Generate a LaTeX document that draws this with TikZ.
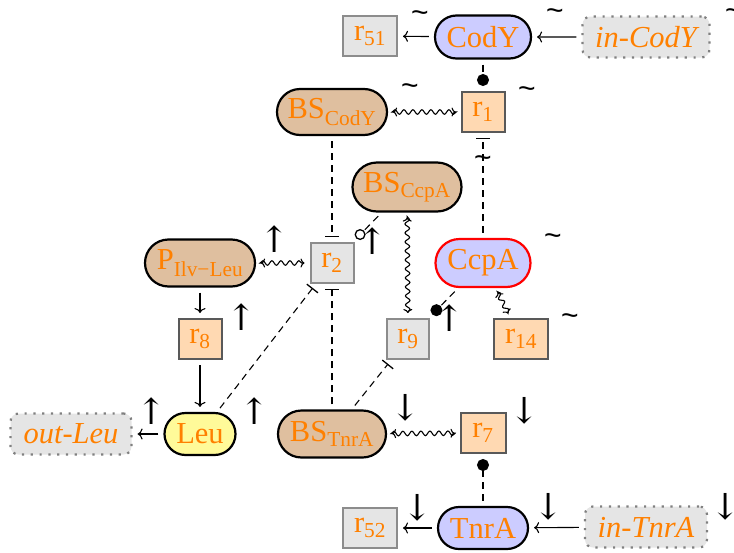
\documentclass[tikz,border=0pt]{standalone}
\usepackage{fontspec}
\setmainfont{Liberation Serif}
\newfontfamily\symfnt{DejaVu Serif}
\newfontfamily\tilfnt{Liberation Sans}
\usetikzlibrary{arrows.meta,decorations.pathmorphing,shapes.misc}
\begin{document}
\begin{tikzpicture}[x=1pt,y=-1pt,
 lbl/.style={text=orange, font=\fontsize{30.5}{36}\selectfont, inner sep=0pt},
 prot/.style={lbl, rounded rectangle, draw=black, line width=2.2pt, fill=blue!20},
 bsite/.style={lbl, rounded rectangle, draw=black, line width=2.2pt, fill=brown!50},
 rxon/.style={lbl, rectangle, draw=black!65, line width=2pt, fill=orange!30, minimum height=40pt},
 rxoff/.style={lbl, rectangle, draw=black!45, line width=2pt, fill=black!10, minimum height=40pt},
 envbox/.style={lbl, rectangle, rounded corners=8pt, draw=black!50, line width=2.2pt, dash pattern=on 2.2pt off 6.6pt, fill=black!10, minimum height=41pt},
 tmk/.style={inner sep=0pt, font=\tilfnt\fontsize{30}{34}\selectfont},
 amk/.style={inner sep=0pt, font=\symfnt\fontsize{36}{40}\selectfont},
 conn/.style={line width=1.1pt, shorten >=5pt, shorten <=5pt},
 act/.style={conn, -{To[length=5pt,width=11pt]}},
 wavy/.style={conn, {To[length=4pt,width=9pt]}-{To[length=4pt,width=9pt]}, decorate, decoration={snake, amplitude=2.3pt, segment length=9pt, pre length=4pt, post length=4pt}},
 reg/.style={conn, dash pattern=on 7pt off 5pt},
 inh/.style={reg, -{Bar[width=14pt, line width=1.3pt]}},
 dotend/.style={reg, -{Circle[length=12pt]}},
 circend/.style={reg, -{Circle[open, length=11pt, line width=1.3pt]}},
]
\useasboundingbox (0,0) rectangle (734,552);
% nodes
\node[prot, minimum width=96pt, minimum height=43pt] (CodY) at (483,37) {CodY};
\node[rxoff, minimum width=54pt] (r51) at (370,36) {r\textsubscript{51}};
\node[envbox, minimum width=127pt] (inCodY) at (646,37) {\itshape in-CodY};
\node[rxon, minimum width=43pt] (r1) at (483,112) {r\textsubscript{1}};
\node[bsite, minimum width=110pt, minimum height=46pt] (BSCodY) at (332,112) {BS\textsubscript{CodY}};
\node[bsite, minimum width=109pt, minimum height=49pt] (BSCcpA) at (407,187) {BS\textsubscript{CcpA}};
\node[rxoff, minimum width=43pt] (r2) at (332,263) {r\textsubscript{2}};
\node[prot, draw=red, minimum width=95pt, minimum height=48pt] (CcpA) at (483,263) {CcpA};
\node[bsite, minimum width=110pt, minimum height=47pt] (PIlv) at (200,263) {P\textsubscript{Ilv−Leu}};
\node[rxon, minimum width=43pt] (r8) at (200,339) {r\textsubscript{8}};
\node[rxoff, minimum width=42pt] (r9) at (408,339) {r\textsubscript{9}};
\node[rxon, minimum width=54pt] (r14) at (521,339) {r\textsubscript{14}};
\node[prot, fill=yellow!40, minimum width=71pt, minimum height=42pt] (Leu) at (200,434) {Leu};
\node[envbox, minimum width=121pt] (outLeu) at (71,434) {\itshape out-Leu};
\node[bsite, minimum width=108pt, minimum height=47pt] (BSTnrA) at (332,434) {BS\textsubscript{TnrA}};
\node[rxon, minimum width=45pt] (r7) at (483,433) {r\textsubscript{7}};
\node[prot, minimum width=90pt, minimum height=42pt] (TnrA) at (483,528) {TnrA};
\node[rxoff, minimum width=54pt] (r52) at (370,528) {r\textsubscript{52}};
\node[envbox, minimum width=122pt] (inTnrA) at (646,527) {\itshape in-TnrA};
% markers
\node[tmk] (m51) at (420,17) {\textasciitilde};
\node[tmk] (mCodY) at (555,15) {\textasciitilde};
\node[tmk] (minCodY) at (734,15) {\textasciitilde};
\node[tmk] (mBSCodY) at (410,90) {\textasciitilde};
\node[tmk] (m1) at (527,93) {\textasciitilde};
\node[tmk] (mBSCcpA) at (483,162) {\textasciitilde};
\node[tmk] (mCcpA) at (553,240) {\textasciitilde};
\node[tmk] (m14) at (570,320) {\textasciitilde};
\node[amk] (mPIlv) at (275,239) {↑};
\node[amk] (m2) at (373,241) {↑};
\node[amk] (m8) at (242,317) {↑};
\node[amk] (m9) at (450,318) {↑};
\node[amk] (mLeu) at (255,411) {↑};
\node[amk] (moutLeu) at (152,411) {↑};
\node[amk] (mBSTnrA) at (406,408) {↓};
\node[amk] (m7) at (525,411) {↓};
\node[amk] (m52) at (418,508) {↓};
\node[amk] (mTnrA) at (549,507) {↓};
\node[amk] (minTnrA) at (726,507) {↓};
% connectors
\draw[act] (CodY) -- (r51);
\draw[act] (inCodY) -- (CodY);
\draw[dotend] (CodY) -- (r1);
\draw[wavy] (BSCodY) -- (r1);
\draw[inh] (CcpA) -- (r1);
\draw[inh] (BSCodY) -- (r2);
\draw[inh] (BSTnrA) -- (r2);
\draw[inh] (Leu) -- (r2);
\draw[inh] (BSTnrA) -- (r9);
\draw[circend] (BSCcpA) -- (r2);
\draw[dotend] (CcpA) -- (r9);
\draw[wavy] (BSCcpA) -- (r9);
\draw[wavy] (CcpA) -- (r14);
\draw[wavy] (PIlv) -- (r2);
\draw[act] (PIlv) -- (r8);
\draw[act] (r8) -- (Leu);
\draw[act] (Leu) -- (outLeu);
\draw[wavy] (BSTnrA) -- (r7);
\draw[dotend] (TnrA) -- (r7);
\draw[act] (TnrA) -- (r52);
\draw[act] (inTnrA) -- (TnrA);
\end{tikzpicture}
\end{document}
